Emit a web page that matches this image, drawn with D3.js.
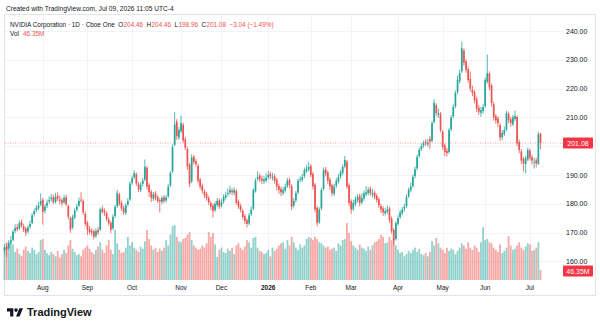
<!DOCTYPE html>
<html>
<head>
<meta charset="utf-8">
<script src="https://cdn.jsdelivr.net/npm/d3@7"></script>
<style>
  body { margin: 0; background: #fff; }
  svg { display: block; font-family: "Liberation Sans", Arial, sans-serif; }
</style>
</head>
<body>
<svg id="chart" width="600" height="328"></svg>
<script>
// NVDA daily candles, 2025-07-08 .. 2026-07-09
const firstDay = "2025-07-08";
const lastDay = "2026-07-09";
const holidays = ["2025-09-01", "2025-11-27", "2025-12-25", "2026-01-01", "2026-01-19",
    "2026-02-16", "2026-04-03", "2026-05-25", "2026-06-19", "2026-07-03"];

const opens = [
    163.8,165.2,164.4,166.8,167.5,170.6,171.9,171.4,173.6,172.2,
    171.3,170.4,172.0,173.4,176.4,177.9,178.4,179.8,181.4,177.6,
    179.3,180.9,181.6,182.3,180.7,182.8,181.5,181.2,180.6,182.3,
    179.2,175.0,171.8,175.2,177.9,179.4,181.4,181.0,176.5,173.4,
    171.2,170.6,170.4,168.9,170.9,171.0,178.3,177.6,176.8,174.5,
    173.4,171.5,175.8,179.2,183.2,180.3,178.6,176.8,179.8,181.5,
    187.3,189.2,190.2,186.8,184.7,186.9,188.4,192.5,186.5,184.2,
    181.8,183.6,182.4,181.3,180.6,182.3,181.2,182.6,186.4,191.2,
    200.5,208.6,203.0,205.2,207.4,202.4,199.0,193.6,187.8,196.4,
    194.8,193.2,188.4,186.3,184.2,183.4,182.0,180.2,179.4,177.8,
    179.6,181.2,179.4,180.8,182.2,183.4,183.9,184.6,183.8,184.4,
    180.8,179.3,177.6,175.8,174.3,173.2,176.4,178.3,184.4,188.6,
    189.8,188.7,187.8,188.1,189.2,190.4,189.2,189.6,188.4,186.2,
    185.2,183.7,184.6,186.2,188.3,186.2,179.4,181.2,183.9,188.2,
    188.3,189.6,191.4,192.0,193.1,190.4,186.6,178.6,173.6,178.4,
    185.2,191.9,190.9,188.4,186.4,183.4,186.3,187.7,189.5,190.8,
    193.0,194.6,186.5,180.9,178.2,180.0,181.2,182.8,180.5,181.8,
    183.3,183.7,185.2,183.1,183.9,182.8,181.6,179.2,178.4,176.7,
    177.3,178.4,174.8,170.9,167.8,173.1,175.4,176.7,178.3,179.2,
    182.6,184.7,186.2,189.6,192.3,196.6,199.0,200.3,201.6,200.6,
    202.5,201.9,208.4,214.2,211.0,211.2,205.0,200.3,198.4,198.0,
    205.8,210.4,213.9,218.8,222.6,226.0,233.2,229.4,226.8,223.4,
    219.5,218.7,216.4,213.3,211.6,212.2,213.9,222.4,225.2,221.0,
    214.6,210.4,209.6,207.3,203.1,204.3,205.8,211.2,209.3,207.6,
    209.4,210.1,201.4,198.2,195.6,193.8,195.4,198.4,196.2,194.4,
    195.1,193.9,204.46
];
const highs = [
    166.0,166.2,167.4,168.8,171.0,172.9,173.0,174.2,174.6,173.1,
    172.0,172.5,174.1,176.8,178.3,179.6,180.6,183.6,182.0,179.8,
    181.5,182.6,183.4,183.1,183.8,184.0,182.8,182.1,183.1,183.2,
    179.8,175.6,176.2,178.4,180.0,182.2,184.0,181.6,177.3,174.0,
    172.3,171.5,171.0,171.4,172.0,178.7,179.4,178.4,177.4,175.3,
    174.0,176.3,179.6,184.8,183.9,181.0,179.4,180.2,182.0,187.8,
    189.8,191.6,190.9,187.6,187.5,189.0,195.4,193.2,187.1,184.9,
    184.1,184.4,183.0,182.0,182.8,183.0,183.0,186.8,191.4,200.6,
    211.8,209.4,206.6,210.6,208.2,203.2,199.8,194.2,197.2,197.0,
    195.6,193.9,189.0,187.1,185.0,184.2,182.8,181.0,180.1,180.8,
    182.0,181.9,181.6,183.3,184.2,185.3,186.3,185.5,185.7,185.0,
    181.5,180.1,178.3,176.5,175.0,176.8,179.0,185.4,188.9,191.2,
    190.5,189.8,189.6,190.6,191.4,191.2,190.8,190.4,189.0,187.0,
    186.0,185.8,187.0,189.0,189.0,186.8,182.0,184.5,188.8,189.6,
    190.4,192.6,193.4,194.6,193.8,191.1,187.2,179.3,178.8,185.6,
    192.6,192.8,191.5,189.2,187.0,186.9,188.9,190.4,191.9,193.6,
    196.6,195.3,187.1,181.6,181.4,182.6,183.4,183.5,183.6,184.6,
    186.2,185.8,186.0,185.2,184.6,183.6,182.3,180.0,179.2,178.6,
    179.4,179.0,175.6,171.6,173.9,176.0,177.8,178.9,180.0,183.2,
    185.6,187.4,190.2,192.9,197.1,199.5,201.0,201.9,202.4,202.5,
    203.5,208.8,216.3,214.9,213.0,211.9,205.7,201.0,199.5,206.3,
    210.8,214.5,219.4,224.5,226.6,236.3,233.9,230.2,227.7,226.0,
    221.0,219.5,217.2,214.2,213.6,214.6,223.9,231.8,226.0,221.7,
    215.4,211.2,210.4,208.0,205.6,206.8,212.3,212.0,210.2,210.9,
    212.4,210.8,202.3,199.0,196.3,196.7,199.5,199.2,197.0,196.0,
    196.0,205.0,204.46
];
const lows = [
    162.4,161.5,163.8,165.9,167.0,169.8,170.4,170.9,171.8,170.2,
    168.8,169.7,171.3,172.9,175.6,177.0,177.8,179.2,172.8,176.6,
    178.5,180.0,180.8,179.9,180.1,181.0,179.8,179.4,179.9,179.2,
    174.6,169.9,171.2,174.6,177.2,178.8,180.4,176.2,172.2,169.2,
    169.4,168.9,167.6,168.2,169.3,170.6,176.6,175.8,174.0,172.4,
    169.8,170.9,175.1,178.6,179.3,177.5,176.2,176.1,179.1,181.0,
    186.6,188.5,186.2,184.1,184.0,186.1,187.8,184.9,182.4,180.6,
    181.0,181.2,180.2,177.0,179.9,180.2,180.5,182.0,185.8,190.6,
    200.0,202.2,202.3,204.6,201.2,198.6,191.8,185.8,187.2,193.6,
    192.8,187.1,185.0,183.6,182.0,181.1,179.5,177.9,175.2,177.2,
    178.8,178.2,178.7,180.1,181.4,182.6,183.2,183.0,183.0,179.6,
    178.2,177.0,174.5,173.0,171.8,172.6,175.8,177.8,183.9,187.8,
    187.5,186.9,186.9,187.4,188.4,188.6,188.1,187.0,184.6,183.4,
    182.6,183.0,183.9,185.5,185.4,177.8,178.6,180.5,183.2,187.4,
    187.6,188.9,190.7,191.2,189.2,185.0,177.0,172.2,173.0,177.8,
    184.6,189.5,186.8,184.8,182.6,182.8,185.5,187.0,188.8,190.0,
    192.3,185.2,179.2,176.5,177.5,179.2,180.5,179.1,179.8,181.0,
    182.6,182.9,182.8,182.2,181.6,180.4,178.6,176.8,175.8,175.9,
    176.4,173.4,169.6,165.6,167.2,172.4,174.7,176.0,177.2,178.6,
    182.0,184.0,185.6,188.9,191.7,196.0,198.3,199.5,200.1,199.8,
    199.0,201.3,207.8,210.4,209.8,204.8,198.8,196.5,196.4,197.4,
    205.2,209.7,213.2,218.1,221.8,225.4,227.9,225.5,222.0,219.0,
    217.4,214.9,211.8,210.9,210.2,211.3,213.3,221.8,219.4,213.8,
    208.9,207.8,206.6,201.8,202.2,203.5,205.2,208.0,206.8,207.0,
    208.7,200.0,197.6,193.8,191.2,190.6,194.8,195.0,193.7,192.2,
    192.6,193.5,198.96
];
const closes = [
    164.9,164.1,166.5,167.2,170.3,171.6,171.2,173.3,172.4,171.0,
    170.0,171.8,173.0,176.0,177.5,178.6,179.4,181.0,177.2,179.0,
    180.4,181.3,182.1,180.5,182.4,181.8,181.0,180.3,182.0,179.8,
    175.5,171.0,175.5,177.6,179.0,181.0,181.3,177.0,173.0,171.0,
    170.2,170.0,168.5,170.6,170.0,178.0,177.2,177.0,174.7,173.2,
    171.0,175.5,178.9,183.7,180.0,178.4,177.0,179.5,181.0,187.0,
    188.9,190.7,187.0,185.0,186.6,188.0,192.8,186.0,184.0,182.0,
    183.3,182.0,181.0,180.8,182.0,181.0,182.2,186.0,190.7,199.7,
    207.5,203.5,205.6,208.0,202.0,199.5,193.0,187.0,196.0,194.5,
    193.8,188.0,186.0,184.5,183.0,182.0,180.5,179.0,177.5,180.0,
    181.0,179.0,180.5,182.4,183.0,183.7,184.8,184.0,184.8,180.3,
    179.0,178.0,175.4,174.0,173.0,176.0,178.0,184.8,188.0,189.3,
    188.5,188.0,188.5,189.0,190.0,189.5,189.3,188.0,186.0,184.8,
    184.0,184.8,186.0,188.0,186.5,179.0,181.0,183.7,188.0,188.5,
    189.3,191.7,192.2,192.8,190.0,186.0,178.0,173.3,178.0,184.8,
    191.7,190.5,188.0,186.0,183.7,186.0,188.0,189.3,191.0,192.8,
    195.2,186.0,180.3,178.0,180.3,181.5,182.4,180.3,182.0,183.7,
    184.0,184.8,183.7,183.7,182.5,181.3,179.5,178.0,177.0,177.5,
    178.0,174.4,170.5,167.4,173.3,175.0,177.0,178.0,179.0,182.4,
    184.8,186.0,189.3,192.0,196.3,198.7,200.0,201.0,201.0,201.2,
    201.5,208.0,215.0,211.5,211.5,205.6,199.7,198.0,197.6,205.6,
    210.0,213.6,218.5,223.0,225.4,234.0,229.0,226.5,223.0,220.0,
    218.5,216.0,213.0,212.0,212.5,213.6,223.0,225.4,220.5,215.0,
    210.0,209.0,208.0,203.0,204.6,205.6,211.5,209.0,208.0,210.0,
    210.5,201.0,198.7,195.0,194.0,195.8,198.7,196.0,195.0,194.5,
    194.0,204.12,201.08
];
// volume in millions
const volumes = [
    150,175,140,185,165,130,145,120,110,140,155,135,125,150,140,120,130,185,
    190,140,125,115,130,120,110,135,105,120,140,125,160,185,145,130,115,120,110,140,150,
    160,145,130,120,140,155,175,140,125,160,185,140,120,232,170,140,125,130,150,200,160,
    175,150,140,130,155,145,180,232,190,160,140,150,130,145,135,150,185,160,210,250,
    255,200,180,175,190,195,210,222,185,160,150,140,145,160,150,170,222,200,218,165,
    107,140,150,130,125,145,135,150,120,160,170,150,140,155,185,175,150,195,200,150,
    135,130,120,125,140,110,150,135,145,160,170,175,145,185,160,200,175,150,140,165,
    150,160,190,200,195,185,200,190,175,170,160,150,155,140,145,150,135,170,160,185,
    190,264,218,180,160,150,140,165,150,145,135,155,140,160,175,180,190,209,200,170,
    175,200,185,190,160,140,125,130,110,120,135,125,140,150,130,145,120,115,125,110,
    130,180,160,195,170,150,140,125,150,135,145,140,120,135,150,170,160,145,175,150,
    140,160,150,130,175,245,185,190,175,170,150,140,130,165,125,135,150,204,160,140,
    145,160,175,150,140,155,170,165,135,140,150,175,46.35
];

// 200.00 sits under the last-price badge, so it is not labelled
const priceTicks = [160, 170, 180, 190, 200, 210, 220, 230, 240];
const priceLabels = [160, 170, 180, 190, 210, 220, 230, 240];
const monthLabels = ["Jan", "Feb", "Mar", "Apr", "May", "Jun", "Jul", "Aug", "Sep", "Oct", "Nov", "Dec"];
const lastClose = 201.08;
const lastVolume = 46.35;

const UP = "#26a69a", DOWN = "#ef5350";
const UP_VOL = "rgba(38,166,154,0.5)", DOWN_VOL = "rgba(239,83,80,0.5)";
const TEXT = "#131722", GRID = "#f0f3fa", BORDER = "#e0e3eb";

// trading days (weekdays minus exchange holidays)
const fmt = d3.utcFormat("%Y-%m-%d");
const dates = d3.utcDays(new Date(firstDay), d3.utcDay.offset(new Date(lastDay), 1))
    .filter(d => d.getUTCDay() !== 0 && d.getUTCDay() !== 6 && !holidays.includes(fmt(d)));

const svg = d3.select("#chart");

const pane = { left: 5, right: 563, top: 15, bottom: 280 };

const x = d3.scaleLinear().domain([0, dates.length - 1]).range([4.5, 540.5]);
const y = d3.scaleLinear().domain([160, 240]).range([261.4, 31]);
const yVol = d3.scaleLinear().domain([0, lastVolume]).range([pane.bottom, pane.bottom - 10]);

// month ticks at the first trading day of each month
const monthTicks = [];
dates.forEach((d, i) => {
    if (i > 0 && d.getUTCMonth() !== dates[i - 1].getUTCMonth()) {
        const m = d.getUTCMonth();
        monthTicks.push({ i, label: m === 0 ? String(d.getUTCFullYear()) : monthLabels[m], bold: m === 0 });
    }
});

// grid
svg.append("g").selectAll("line.h")
    .data(priceTicks)
    .join("line")
    .attr("x1", pane.left).attr("x2", pane.right)
    .attr("y1", d => Math.round(y(d)) + 0.5).attr("y2", d => Math.round(y(d)) + 0.5)
    .attr("stroke", GRID).attr("stroke-width", 1);

svg.append("g").selectAll("line.v")
    .data(monthTicks)
    .join("line")
    .attr("x1", d => Math.round(x(d.i)) + 0.5).attr("x2", d => Math.round(x(d.i)) + 0.5)
    .attr("y1", pane.top).attr("y2", pane.bottom)
    .attr("stroke", GRID).attr("stroke-width", 1);

// outer frame
svg.append("rect")
    .attr("x", 4.5).attr("y", 14.5).attr("width", 591).attr("height", 281)
    .attr("fill", "none").attr("stroke", BORDER).attr("stroke-width", 1);

// volume
svg.append("g").selectAll("rect")
    .data(volumes)
    .join("rect")
    .attr("x", (d, i) => x(i) - 0.9)
    .attr("width", 1.8)
    .attr("y", d => yVol(d))
    .attr("height", d => pane.bottom - yVol(d))
    .attr("fill", (d, i) => closes[i] >= opens[i] ? UP_VOL : DOWN_VOL);

// candles
const candles = svg.append("g").selectAll("g")
    .data(closes)
    .join("g")
    .attr("fill", (c, i) => c >= opens[i] ? UP : DOWN)
    .attr("stroke", (c, i) => c >= opens[i] ? UP : DOWN);

candles.append("line")
    .attr("x1", (c, i) => x(i)).attr("x2", (c, i) => x(i))
    .attr("y1", (c, i) => y(highs[i])).attr("y2", (c, i) => y(lows[i]))
    .attr("stroke-width", 0.8);

candles.append("rect")
    .attr("stroke", "none")
    .attr("x", (c, i) => x(i) - 0.85)
    .attr("width", 1.7)
    .attr("y", (c, i) => y(Math.max(c, opens[i])))
    .attr("height", (c, i) => Math.max(0.8, Math.abs(y(c) - y(opens[i]))));

// last price line
svg.append("line")
    .attr("x1", pane.left).attr("x2", pane.right)
    .attr("y1", y(lastClose)).attr("y2", y(lastClose))
    .attr("stroke", DOWN).attr("stroke-width", 0.7)
    .attr("stroke-dasharray", "1,1.5").attr("opacity", 0.7);

// price axis
svg.append("g").selectAll("text")
    .data(priceLabels)
    .join("text")
    .attr("x", 566).attr("y", d => y(d) + 2.5)
    .attr("font-size", 7).attr("fill", TEXT)
    .text(d => d.toFixed(2));

// time axis
svg.append("g").selectAll("text")
    .data(monthTicks)
    .join("text")
    .attr("x", d => x(d.i)).attr("y", 290)
    .attr("text-anchor", "middle")
    .attr("font-size", 6.5).attr("fill", TEXT)
    .attr("font-weight", d => d.bold ? 700 : 400)
    .text(d => d.label);

// last value badges
function badge(yc, label) {
    svg.append("rect")
        .attr("x", 563).attr("y", yc - 5.5).attr("width", 30).attr("height", 11)
        .attr("rx", 1).attr("fill", "#f23645");
    svg.append("text")
        .attr("x", 578).attr("y", yc + 2.5).attr("text-anchor", "middle")
        .attr("font-size", 7).attr("fill", "#fff")
        .text(label);
}
badge(y(lastClose), lastClose.toFixed(2));
badge(yVol(lastVolume) + 1, lastVolume.toFixed(2) + "M");

// header / legend
svg.append("text")
    .attr("x", 6).attr("y", 10.5).attr("font-size", 6.6).attr("fill", TEXT)
    .text("Created with TradingView.com, Jul 09, 2026 11:05 UTC-4");

// legend pieces laid out left to right; gap is the space before each piece
const legend = [
    { t: "NVIDIA Corporation · 1D · Cboe One", c: TEXT, gap: 0 },
    { t: "O", c: TEXT, gap: 3.5 }, { t: opens[opens.length - 1].toFixed(2), c: DOWN, gap: 0.3 },
    { t: "H", c: TEXT, gap: 3.5 }, { t: highs[highs.length - 1].toFixed(2), c: DOWN, gap: 0.3 },
    { t: "L", c: TEXT, gap: 3.5 }, { t: lows[lows.length - 1].toFixed(2), c: DOWN, gap: 0.3 },
    { t: "C", c: TEXT, gap: 3.5 }, { t: lastClose.toFixed(2), c: DOWN, gap: 0.3 },
    { t: "\u22123.04 (\u22121.49%)", c: DOWN, gap: 3.5 }
];
let lx = 10;
legend.forEach(p => {
    lx += p.gap;
    const t = svg.append("text")
        .attr("x", lx).attr("y", 26.5)
        .attr("font-size", 6.4).attr("fill", p.c)
        .text(p.t);
    lx += t.node().getComputedTextLength();
});

svg.append("text").attr("x", 10).attr("y", 35.5).attr("font-size", 6.4).attr("fill", TEXT).text("Vol");
svg.append("text").attr("x", 23).attr("y", 35.5).attr("font-size", 6.4).attr("fill", DOWN)
    .text(lastVolume.toFixed(2) + "M");

// TradingView logo
const logo = svg.append("g").attr("transform", "translate(7,306.5) scale(0.45)").attr("fill", TEXT);
logo.append("path").attr("d", "M14 22H7V11H0V4h14v18zM28 22h-8l7.5-18h8L28 22z");
logo.append("circle").attr("cx", 20).attr("cy", 8).attr("r", 4);
svg.append("text")
    .attr("x", 27).attr("y", 315.5)
    .attr("font-size", 11).attr("font-weight", 700).attr("fill", TEXT)
    .text("TradingView");
</script>
</body>
</html>
